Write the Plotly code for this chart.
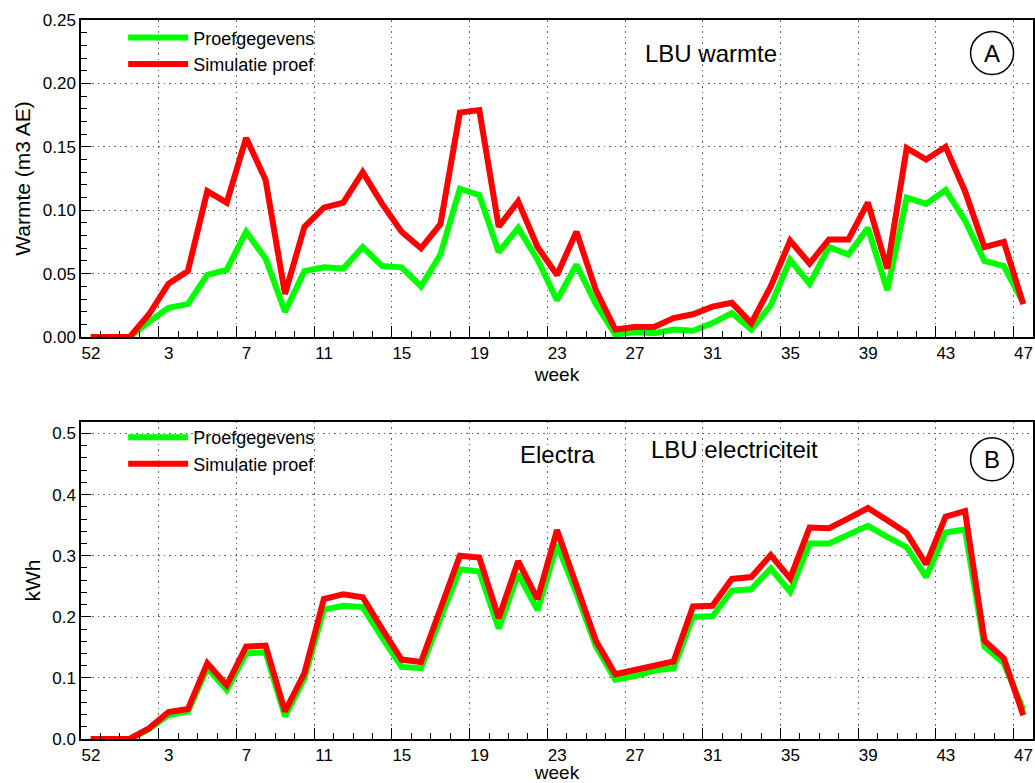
import numpy as np
import plotly.graph_objects as go

# ---------------- data ----------------
tick_labels = ["52", "3", "7", "11", "15", "19", "23", "27", "31", "35", "39", "43", "47"]

warm_data = [0, 0, 0, 0.012, 0.023, 0.026, 0.049, 0.053, 0.083, 0.062, 0.020, 0.052, 0.055,
             0.054, 0.071, 0.056, 0.055, 0.040, 0.065, 0.117, 0.112, 0.067, 0.086, 0.061,
             0.029, 0.057, 0.026, 0.002, 0.004, 0.003, 0.006, 0.005, 0.011, 0.019, 0.006,
             0.025, 0.061, 0.042, 0.071, 0.065, 0.086, 0.037, 0.110, 0.105, 0.116, 0.092,
             0.060, 0.056, 0.027]
warm_sim = [0, 0, 0, 0.018, 0.042, 0.052, 0.115, 0.106, 0.157, 0.124, 0.034, 0.087, 0.102,
            0.106, 0.130, 0.105, 0.083, 0.070, 0.089, 0.177, 0.179, 0.087, 0.107, 0.071,
            0.049, 0.083, 0.037, 0.006, 0.008, 0.008, 0.015, 0.018, 0.024, 0.027, 0.011,
            0.040, 0.076, 0.058, 0.077, 0.077, 0.106, 0.054, 0.149, 0.140, 0.150, 0.115,
            0.071, 0.075, 0.026]
elec_data = [0, 0, 0, 0.016, 0.039, 0.045, 0.116, 0.080, 0.140, 0.142, 0.037, 0.099, 0.212,
             0.218, 0.216, 0.166, 0.118, 0.116, 0.200, 0.278, 0.274, 0.181, 0.270, 0.211,
             0.318, 0.239, 0.152, 0.097, 0.103, 0.112, 0.116, 0.200, 0.201, 0.243, 0.245,
             0.279, 0.241, 0.320, 0.320, 0.334, 0.349, 0.331, 0.314, 0.265, 0.338, 0.343,
             0.151, 0.124, 0.048]
elec_sim = [0, 0, 0, 0.0175, 0.044, 0.049, 0.124, 0.088, 0.151, 0.153, 0.045, 0.108, 0.229,
            0.237, 0.232, 0.180, 0.130, 0.126, 0.212, 0.300, 0.297, 0.198, 0.291, 0.229,
            0.342, 0.254, 0.161, 0.106, 0.113, 0.121, 0.127, 0.217, 0.218, 0.262, 0.265,
            0.301, 0.263, 0.346, 0.345, 0.361, 0.378, 0.358, 0.337, 0.286, 0.364, 0.373,
            0.161, 0.132, 0.039]

# ---------------- figure ----------------
x = np.arange(len(warm_data)) + 0.5          # each week centred in its interval
tickvals = np.arange(len(tick_labels)) * 4    # major ticks every 4 weeks

FONT = "Liberation Sans, Arial, Helvetica, sans-serif"
GREEN = "#00FF00"
RED = "#FF0000"
LW = 6

fig = go.Figure()
fig.add_trace(go.Scatter(x=x, y=warm_data, mode="lines", name="Proefgegevens",
                         line=dict(color=GREEN, width=LW), xaxis="x", yaxis="y", legend="legend"))
fig.add_trace(go.Scatter(x=x, y=warm_sim, mode="lines", name="Simulatie proef",
                         line=dict(color=RED, width=LW), xaxis="x", yaxis="y", legend="legend"))
fig.add_trace(go.Scatter(x=x, y=elec_data, mode="lines", name="Proefgegevens",
                         line=dict(color=GREEN, width=LW), xaxis="x2", yaxis="y2", legend="legend2"))
fig.add_trace(go.Scatter(x=x, y=elec_sim, mode="lines", name="Simulatie proef",
                         line=dict(color=RED, width=LW), xaxis="x2", yaxis="y2", legend="legend2"))

GRID = dict(showgrid=True, gridcolor="#666666", griddash="1.5px,4px", gridwidth=1)
LINE = dict(showline=True, linecolor="black", linewidth=1.5, mirror=True, zeroline=False)


def xcfg(anchor):
    return dict(domain=[0, 1], anchor=anchor, range=[0, 49], automargin=False,
                tickmode="array", tickvals=tickvals, ticktext=tick_labels,
                ticks="inside", ticklen=11, tickwidth=1, tickcolor="black",
                ticklabelshift=10,
                minor=dict(tickmode="linear", tick0=0, dtick=1, ticks="inside",
                           ticklen=6, tickcolor="black", showgrid=False),
                tickfont=dict(size=17, color="black"),
                title=dict(text="week", font=dict(size=19, color="black"), standoff=5),
                **GRID, **LINE)


def ycfg(anchor, domain, rng, dtick, mdtick, fmt, title):
    return dict(domain=domain, anchor=anchor, range=rng, tickmode="linear", tick0=0,
                dtick=dtick, tickformat=fmt, automargin=False,
                ticks="inside", ticklen=10, tickwidth=1, tickcolor="black",
                minor=dict(tickmode="linear", tick0=0, dtick=mdtick, ticks="inside",
                           ticklen=6, tickcolor="black", showgrid=False),
                tickfont=dict(size=17, color="black"),
                title=dict(text=title, font=dict(size=21, color="black"), standoff=6),
                **GRID, **LINE)


fig.update_layout(
    width=1035, height=783,
    margin=dict(l=81, r=2, t=20, b=44),
    paper_bgcolor="white", plot_bgcolor="white",
    font=dict(family=FONT, color="black"),
    xaxis=xcfg("y"),
    yaxis=ycfg("x", [0.559, 1], [0, 0.25], 0.05, 0.01, ".2f", "Warmte (m3 AE)"),
    xaxis2=xcfg("y2"),
    yaxis2=ycfg("x2", [0, 0.441], [0, 0.519], 0.1, 0.02, ".1f", "kWh"),
    legend=dict(x=0.0443, y=1.001, xanchor="left", yanchor="top",
                bgcolor="rgba(0,0,0,0)", font=dict(size=18, color="black"),
                itemwidth=60),
    legend2=dict(x=0.0443, y=0.445, xanchor="left", yanchor="top",
                 bgcolor="rgba(0,0,0,0)", font=dict(size=18, color="black"),
                 itemwidth=60),
    showlegend=True,
)

ann_font = dict(size=24, color="black", family=FONT)
for txt, ax, ay in (("LBU warmte", 0.662, 0.9535),
                    ("Electra", 0.5, 0.395),
                    ("LBU electriciteit", 0.686, 0.403)):
    fig.add_annotation(text=txt, xref="paper", yref="paper", x=ax, y=ay,
                       xanchor="center", yanchor="middle", showarrow=False, font=ann_font)

for lab, py in (("A", 0.954), ("B", 0.389)):
    fig.add_shape(type="circle", xref="paper", yref="paper", xsizemode="pixel",
                  ysizemode="pixel", xanchor=0.957, yanchor=py,
                  x0=-21.5, x1=21.5, y0=-21.5, y1=21.5, line=dict(color="black", width=1.5))
    fig.add_annotation(text=lab, xref="paper", yref="paper", x=0.957, y=py,
                       xanchor="center", yanchor="middle", showarrow=False, font=ann_font)

fig.write_html("out.html")
